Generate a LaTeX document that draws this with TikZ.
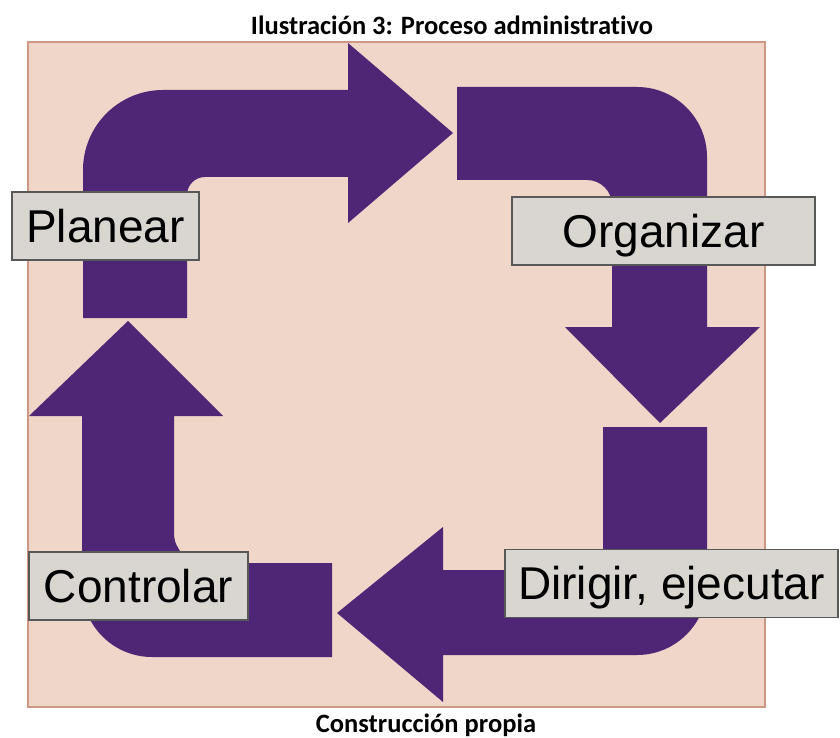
\documentclass[tikz,border=0pt]{standalone}
\usepackage{fontspec}
\setmainfont{Liberation Sans}
\newfontfamily\captfont[Ligatures=CommonOff]{Carlito}
\usepackage{tikz}
\definecolor{procpurple}{RGB}{79,38,118}
\definecolor{bgpeach}{RGB}{240,213,201}
\definecolor{bgedge}{RGB}{207,152,132}
\definecolor{boxgray}{RGB}{217,214,209}
\definecolor{boxedge}{RGB}{88,88,88}
\tikzset{
  stage/.style={draw=boxedge, fill=boxgray, line width=1.5pt, rectangle, inner sep=0pt,
    minimum height=68pt, text height=34pt, text depth=2pt, font=\fontsize{46}{50}\selectfont},
  bigarrow/.style={fill=procpurple},
  capt/.style={anchor=base, inner sep=0pt, font=\captfont\bfseries\fontsize{26.5}{30}\selectfont}
}

\begin{document}
\begin{tikzpicture}[x=1pt, y=-1pt]
\useasboundingbox (0,0) rectangle (840,738);
\draw[fill=bgpeach, draw=bgedge, line width=1.5pt] (28,42) rectangle (765,707);

\fill[bigarrow] (83,318) -- (83,170) arc[start angle=180, end angle=270, radius=80] -- (348,90) -- (348,43) -- (453,133) -- (348,223) -- (348,177) -- (205,177) arc[start angle=270, end angle=180, radius=18] -- (187,318) -- cycle;
\fill[bigarrow] (457,87) -- (637,87) arc[start angle=270, end angle=360, radius=70] -- (707,327) -- (760,327) -- (660,423) -- (565,327) -- (612,327) -- (612,205) arc[start angle=0, end angle=-90, radius=25] -- (457,180) -- cycle;
\fill[bigarrow] (603,427) -- (707,427) -- (707,585) arc[start angle=0, end angle=90, radius=70] -- (443,655) -- (443,702) -- (337,613) -- (443,527) -- (443,570) -- (603,570) -- cycle;
\fill[bigarrow] (332,563) -- (332,657) -- (152,657) arc[start angle=90, end angle=180, radius=70] -- (82,416) -- (29,416) -- (128,321) -- (223,416) -- (174,416) -- (174,533) arc[start angle=180, end angle=90, radius=30] -- cycle;

\node[stage, minimum width=187pt] (plan) at (105.5,226) {Planear};
\node[stage, minimum width=303pt] (org) at (663.5,231) {Organizar};
\node[stage, minimum width=333pt] (dir) at (671.5,583.5) {Dirigir, ejecutar};
\node[stage, minimum width=219pt] (ctl) at (138.5,586) {Controlar};

\node[capt] (title) at (452,35) {Ilustración 3: Proceso administrativo};
\node[capt] (src) at (426,732) {Construcción propia};
\end{tikzpicture}
\end{document}
